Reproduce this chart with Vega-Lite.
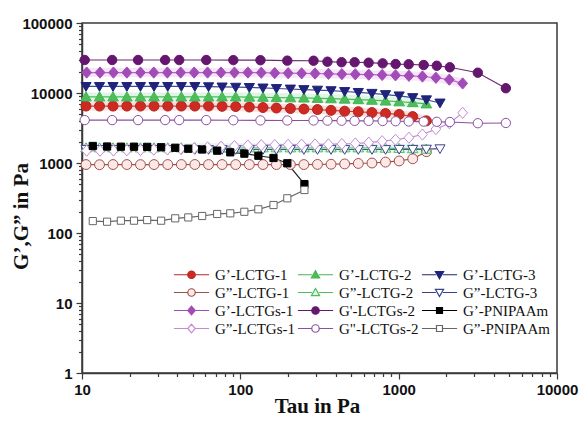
{
  "$schema": "https://vega.github.io/schema/vega-lite/v6.json",
  "width": 475,
  "height": 350,
  "autosize": {"type": "none"},
  "padding": {"left": 82, "top": 23, "right": 22, "bottom": 48},
  "background": "white",
  "config": {
    "view": {"stroke": "#3a3a3a", "strokeWidth": 1.5},
    "axis": {"grid": false, "domainColor": "#3a3a3a", "domainWidth": 1.5, "tickColor": "#3a3a3a", "tickWidth": 1.2,
      "labelFont": "Liberation Sans", "labelFontWeight": "bold", "labelFontSize": 15, "labelColor": "#111",
      "titleFont": "Liberation Serif", "titleFontWeight": "bold", "titleFontSize": 21, "titleColor": "#111",
      "labelOverlap": false, "labelFlush": false},
    "legend": {"orient": "none", "legendX": 102, "legendY": 244, "columns": 3, "padding": 0,
      "symbolSize": 56, "symbolStrokeWidth": 1.2, "symbolOpacity": 1, "labelFont": "Liberation Serif", "labelFontSize": 15, "labelColor": "#111",
      "labelOffset": 16, "columnPadding": 0, "rowPadding": 2, "labelLimit": 200}
  },
  "resolve": {"scale": {"stroke": "independent", "fill": "independent", "shape": "independent", "size": "independent"}},
  "data": {"values": [
    {"s":"G’-LCTG-1","x":10.6,"y":6500},{"s":"G’-LCTG-1","x":12.9,"y":6500},{"s":"G’-LCTG-1","x":15.7,"y":6500},{"s":"G’-LCTG-1","x":19.2,"y":6500},{"s":"G’-LCTG-1","x":23.4,"y":6500},{"s":"G’-LCTG-1","x":28.5,"y":6500},{"s":"G’-LCTG-1","x":34.8,"y":6500},{"s":"G’-LCTG-1","x":42.4,"y":6500},{"s":"G’-LCTG-1","x":51.6,"y":6500},{"s":"G’-LCTG-1","x":63.0,"y":6500},{"s":"G’-LCTG-1","x":76.7,"y":6450},{"s":"G’-LCTG-1","x":93.5,"y":6400},{"s":"G’-LCTG-1","x":114,"y":6300},{"s":"G’-LCTG-1","x":139,"y":6200},{"s":"G’-LCTG-1","x":169,"y":6100},{"s":"G’-LCTG-1","x":207,"y":6000},{"s":"G’-LCTG-1","x":252,"y":5900},{"s":"G’-LCTG-1","x":307,"y":5800},{"s":"G’-LCTG-1","x":374,"y":5650},{"s":"G’-LCTG-1","x":456,"y":5500},{"s":"G’-LCTG-1","x":556,"y":5400},{"s":"G’-LCTG-1","x":678,"y":5250},{"s":"G’-LCTG-1","x":826,"y":5100},{"s":"G’-LCTG-1","x":1007,"y":4950},{"s":"G’-LCTG-1","x":1227,"y":4600},{"s":"G’-LCTG-1","x":1496,"y":4000},
    {"s":"G”-LCTG-1","x":10.6,"y":950},{"s":"G”-LCTG-1","x":12.9,"y":945},{"s":"G”-LCTG-1","x":15.7,"y":950},{"s":"G”-LCTG-1","x":19.2,"y":950},{"s":"G”-LCTG-1","x":23.4,"y":948},{"s":"G”-LCTG-1","x":28.5,"y":950},{"s":"G”-LCTG-1","x":34.8,"y":950},{"s":"G”-LCTG-1","x":42.4,"y":950},{"s":"G”-LCTG-1","x":51.6,"y":952},{"s":"G”-LCTG-1","x":63.0,"y":950},{"s":"G”-LCTG-1","x":76.7,"y":950},{"s":"G”-LCTG-1","x":93.5,"y":950},{"s":"G”-LCTG-1","x":114,"y":950},{"s":"G”-LCTG-1","x":139,"y":950},{"s":"G”-LCTG-1","x":169,"y":950},{"s":"G”-LCTG-1","x":207,"y":950},{"s":"G”-LCTG-1","x":252,"y":950},{"s":"G”-LCTG-1","x":307,"y":955},{"s":"G”-LCTG-1","x":374,"y":960},{"s":"G”-LCTG-1","x":456,"y":970},{"s":"G”-LCTG-1","x":556,"y":985},{"s":"G”-LCTG-1","x":678,"y":1000},{"s":"G”-LCTG-1","x":826,"y":1030},{"s":"G”-LCTG-1","x":1007,"y":1070},{"s":"G”-LCTG-1","x":1227,"y":1150},{"s":"G”-LCTG-1","x":1496,"y":1450},
    {"s":"G’-LCTG-2","x":10.6,"y":8800},{"s":"G’-LCTG-2","x":12.9,"y":8800},{"s":"G’-LCTG-2","x":15.7,"y":8800},{"s":"G’-LCTG-2","x":19.2,"y":8800},{"s":"G’-LCTG-2","x":23.4,"y":8800},{"s":"G’-LCTG-2","x":28.5,"y":8800},{"s":"G’-LCTG-2","x":34.8,"y":8800},{"s":"G’-LCTG-2","x":42.4,"y":8800},{"s":"G’-LCTG-2","x":51.6,"y":8800},{"s":"G’-LCTG-2","x":63.0,"y":8800},{"s":"G’-LCTG-2","x":76.7,"y":8800},{"s":"G’-LCTG-2","x":93.5,"y":8800},{"s":"G’-LCTG-2","x":114,"y":8750},{"s":"G’-LCTG-2","x":139,"y":8700},{"s":"G’-LCTG-2","x":169,"y":8600},{"s":"G’-LCTG-2","x":207,"y":8550},{"s":"G’-LCTG-2","x":252,"y":8500},{"s":"G’-LCTG-2","x":307,"y":8400},{"s":"G’-LCTG-2","x":374,"y":8300},{"s":"G’-LCTG-2","x":456,"y":8200},{"s":"G’-LCTG-2","x":556,"y":8050},{"s":"G’-LCTG-2","x":678,"y":7900},{"s":"G’-LCTG-2","x":826,"y":7700},{"s":"G’-LCTG-2","x":1007,"y":7500},{"s":"G’-LCTG-2","x":1227,"y":7300},{"s":"G’-LCTG-2","x":1496,"y":7000},
    {"s":"G”-LCTG-2","x":10.6,"y":1650},{"s":"G”-LCTG-2","x":12.9,"y":1650},{"s":"G”-LCTG-2","x":15.7,"y":1650},{"s":"G”-LCTG-2","x":19.2,"y":1650},{"s":"G”-LCTG-2","x":23.4,"y":1650},{"s":"G”-LCTG-2","x":28.5,"y":1650},{"s":"G”-LCTG-2","x":34.8,"y":1650},{"s":"G”-LCTG-2","x":42.4,"y":1650},{"s":"G”-LCTG-2","x":51.6,"y":1650},{"s":"G”-LCTG-2","x":63.0,"y":1650},{"s":"G”-LCTG-2","x":76.7,"y":1650},{"s":"G”-LCTG-2","x":93.5,"y":1650},{"s":"G”-LCTG-2","x":114,"y":1650},{"s":"G”-LCTG-2","x":139,"y":1650},{"s":"G”-LCTG-2","x":169,"y":1650},{"s":"G”-LCTG-2","x":207,"y":1650},{"s":"G”-LCTG-2","x":252,"y":1650},{"s":"G”-LCTG-2","x":307,"y":1650},{"s":"G”-LCTG-2","x":374,"y":1650},{"s":"G”-LCTG-2","x":456,"y":1650},{"s":"G”-LCTG-2","x":556,"y":1650},{"s":"G”-LCTG-2","x":678,"y":1640},{"s":"G”-LCTG-2","x":826,"y":1630},{"s":"G”-LCTG-2","x":1007,"y":1620},{"s":"G”-LCTG-2","x":1227,"y":1600},{"s":"G”-LCTG-2","x":1496,"y":1580},
    {"s":"G’-LCTG-3","x":10.6,"y":12400},{"s":"G’-LCTG-3","x":12.9,"y":12400},{"s":"G’-LCTG-3","x":15.7,"y":12400},{"s":"G’-LCTG-3","x":19.2,"y":12400},{"s":"G’-LCTG-3","x":23.4,"y":12400},{"s":"G’-LCTG-3","x":28.5,"y":12400},{"s":"G’-LCTG-3","x":34.8,"y":12400},{"s":"G’-LCTG-3","x":42.4,"y":12400},{"s":"G’-LCTG-3","x":51.6,"y":12400},{"s":"G’-LCTG-3","x":63.0,"y":12300},{"s":"G’-LCTG-3","x":76.7,"y":12200},{"s":"G’-LCTG-3","x":93.5,"y":12100},{"s":"G’-LCTG-3","x":114,"y":12000},{"s":"G’-LCTG-3","x":139,"y":11800},{"s":"G’-LCTG-3","x":169,"y":11600},{"s":"G’-LCTG-3","x":207,"y":11400},{"s":"G’-LCTG-3","x":252,"y":11200},{"s":"G’-LCTG-3","x":307,"y":11000},{"s":"G’-LCTG-3","x":374,"y":10800},{"s":"G’-LCTG-3","x":456,"y":10500},{"s":"G’-LCTG-3","x":556,"y":10200},{"s":"G’-LCTG-3","x":678,"y":9900},{"s":"G’-LCTG-3","x":826,"y":9500},{"s":"G’-LCTG-3","x":1007,"y":9100},{"s":"G’-LCTG-3","x":1227,"y":8600},{"s":"G’-LCTG-3","x":1496,"y":8000},{"s":"G’-LCTG-3","x":1824,"y":7200},
    {"s":"G”-LCTG-3","x":10.6,"y":1560},{"s":"G”-LCTG-3","x":12.9,"y":1560},{"s":"G”-LCTG-3","x":15.7,"y":1560},{"s":"G”-LCTG-3","x":19.2,"y":1560},{"s":"G”-LCTG-3","x":23.4,"y":1560},{"s":"G”-LCTG-3","x":28.5,"y":1560},{"s":"G”-LCTG-3","x":34.8,"y":1560},{"s":"G”-LCTG-3","x":42.4,"y":1560},{"s":"G”-LCTG-3","x":51.6,"y":1560},{"s":"G”-LCTG-3","x":63.0,"y":1560},{"s":"G”-LCTG-3","x":76.7,"y":1560},{"s":"G”-LCTG-3","x":93.5,"y":1560},{"s":"G”-LCTG-3","x":114,"y":1560},{"s":"G”-LCTG-3","x":139,"y":1560},{"s":"G”-LCTG-3","x":169,"y":1560},{"s":"G”-LCTG-3","x":207,"y":1560},{"s":"G”-LCTG-3","x":252,"y":1560},{"s":"G”-LCTG-3","x":307,"y":1560},{"s":"G”-LCTG-3","x":374,"y":1560},{"s":"G”-LCTG-3","x":456,"y":1560},{"s":"G”-LCTG-3","x":556,"y":1560},{"s":"G”-LCTG-3","x":678,"y":1560},{"s":"G”-LCTG-3","x":826,"y":1560},{"s":"G”-LCTG-3","x":1007,"y":1570},{"s":"G”-LCTG-3","x":1227,"y":1570},{"s":"G”-LCTG-3","x":1496,"y":1580},{"s":"G”-LCTG-3","x":1824,"y":1600},
    {"s":"G’-LCTGs-1","x":10.7,"y":19600},{"s":"G’-LCTGs-1","x":13.0,"y":19600},{"s":"G’-LCTGs-1","x":15.8,"y":19600},{"s":"G’-LCTGs-1","x":19.2,"y":19600},{"s":"G’-LCTGs-1","x":23.4,"y":19600},{"s":"G’-LCTGs-1","x":28.4,"y":19600},{"s":"G’-LCTGs-1","x":34.6,"y":19600},{"s":"G’-LCTGs-1","x":42.0,"y":19600},{"s":"G’-LCTGs-1","x":51.1,"y":19600},{"s":"G’-LCTGs-1","x":62.1,"y":19600},{"s":"G’-LCTGs-1","x":75.5,"y":19600},{"s":"G’-LCTGs-1","x":91.8,"y":19600},{"s":"G’-LCTGs-1","x":111.6,"y":19600},{"s":"G’-LCTGs-1","x":135.6,"y":19500},{"s":"G’-LCTGs-1","x":164.9,"y":19300},{"s":"G’-LCTGs-1","x":200.5,"y":19200},{"s":"G’-LCTGs-1","x":243.8,"y":19100},{"s":"G’-LCTGs-1","x":296.3,"y":19000},{"s":"G’-LCTGs-1","x":360.1,"y":18800},{"s":"G’-LCTGs-1","x":437.8,"y":18600},{"s":"G’-LCTGs-1","x":532.2,"y":18500},{"s":"G’-LCTGs-1","x":647.0,"y":18300},{"s":"G’-LCTGs-1","x":786.5,"y":18100},{"s":"G’-LCTGs-1","x":955.4,"y":17900},{"s":"G’-LCTGs-1","x":1161,"y":17600},{"s":"G’-LCTGs-1","x":1413,"y":17200},{"s":"G’-LCTGs-1","x":1718,"y":16500},{"s":"G’-LCTGs-1","x":2089,"y":15500},{"s":"G’-LCTGs-1","x":2535,"y":13700},
    {"s":"G”-LCTGs-1","x":10.7,"y":1500},{"s":"G”-LCTGs-1","x":13.0,"y":1500},{"s":"G”-LCTGs-1","x":15.8,"y":1510},{"s":"G”-LCTGs-1","x":19.2,"y":1520},{"s":"G”-LCTGs-1","x":23.4,"y":1530},{"s":"G”-LCTGs-1","x":28.4,"y":1550},{"s":"G”-LCTGs-1","x":34.6,"y":1570},{"s":"G”-LCTGs-1","x":42.0,"y":1600},{"s":"G”-LCTGs-1","x":51.1,"y":1630},{"s":"G”-LCTGs-1","x":62.1,"y":1670},{"s":"G”-LCTGs-1","x":75.5,"y":1710},{"s":"G”-LCTGs-1","x":91.8,"y":1750},{"s":"G”-LCTGs-1","x":111.6,"y":1780},{"s":"G”-LCTGs-1","x":135.6,"y":1800},{"s":"G”-LCTGs-1","x":164.9,"y":1810},{"s":"G”-LCTGs-1","x":200.5,"y":1820},{"s":"G”-LCTGs-1","x":243.8,"y":1830},{"s":"G”-LCTGs-1","x":296.3,"y":1840},{"s":"G”-LCTGs-1","x":360.1,"y":1850},{"s":"G”-LCTGs-1","x":437.8,"y":1870},{"s":"G”-LCTGs-1","x":532.2,"y":1900},{"s":"G”-LCTGs-1","x":647.0,"y":1950},{"s":"G”-LCTGs-1","x":786.5,"y":2050},{"s":"G”-LCTGs-1","x":955.4,"y":2150},{"s":"G”-LCTGs-1","x":1161,"y":2300},{"s":"G”-LCTGs-1","x":1413,"y":2550},{"s":"G”-LCTGs-1","x":1718,"y":3050},{"s":"G”-LCTGs-1","x":2089,"y":3700},{"s":"G”-LCTGs-1","x":2535,"y":5200},
    {"s":"G'-LCTGs-2","x":10.4,"y":29600},{"s":"G'-LCTGs-2","x":15.5,"y":29600},{"s":"G'-LCTGs-2","x":22.6,"y":29600},{"s":"G'-LCTGs-2","x":33.5,"y":29600},{"s":"G'-LCTGs-2","x":41.1,"y":29600},{"s":"G'-LCTGs-2","x":60.9,"y":29600},{"s":"G'-LCTGs-2","x":90.3,"y":29500},{"s":"G'-LCTGs-2","x":134,"y":29400},{"s":"G'-LCTGs-2","x":198,"y":29000},{"s":"G'-LCTGs-2","x":290,"y":28900},{"s":"G'-LCTGs-2","x":355,"y":28000},{"s":"G'-LCTGs-2","x":436,"y":27500},{"s":"G'-LCTGs-2","x":527,"y":27500},{"s":"G'-LCTGs-2","x":646,"y":27100},{"s":"G'-LCTGs-2","x":792,"y":26500},{"s":"G'-LCTGs-2","x":957,"y":25900},{"s":"G'-LCTGs-2","x":1157,"y":25700},{"s":"G'-LCTGs-2","x":1439,"y":25100},{"s":"G'-LCTGs-2","x":1741,"y":24500},{"s":"G'-LCTGs-2","x":2105,"y":23300},{"s":"G'-LCTGs-2","x":3162,"y":19500},{"s":"G'-LCTGs-2","x":4753,"y":11700},
    {"s":"G\"-LCTGs-2","x":10.4,"y":4100},{"s":"G\"-LCTGs-2","x":15.5,"y":4100},{"s":"G\"-LCTGs-2","x":22.6,"y":4100},{"s":"G\"-LCTGs-2","x":33.5,"y":4100},{"s":"G\"-LCTGs-2","x":41.1,"y":4100},{"s":"G\"-LCTGs-2","x":60.9,"y":4100},{"s":"G\"-LCTGs-2","x":90.3,"y":4080},{"s":"G\"-LCTGs-2","x":134,"y":4060},{"s":"G\"-LCTGs-2","x":198,"y":4050},{"s":"G\"-LCTGs-2","x":290,"y":4050},{"s":"G\"-LCTGs-2","x":355,"y":4030},{"s":"G\"-LCTGs-2","x":436,"y":4020},{"s":"G\"-LCTGs-2","x":527,"y":4000},{"s":"G\"-LCTGs-2","x":646,"y":4000},{"s":"G\"-LCTGs-2","x":792,"y":3980},{"s":"G\"-LCTGs-2","x":957,"y":3950},{"s":"G\"-LCTGs-2","x":1157,"y":3920},{"s":"G\"-LCTGs-2","x":1439,"y":3900},{"s":"G\"-LCTGs-2","x":1741,"y":3880},{"s":"G\"-LCTGs-2","x":2105,"y":3850},{"s":"G\"-LCTGs-2","x":3162,"y":3700},{"s":"G\"-LCTGs-2","x":4753,"y":3730},
    {"s":"G’-PNIPAAm","x":11.7,"y":1750},{"s":"G’-PNIPAAm","x":14.4,"y":1720},{"s":"G’-PNIPAAm","x":17.6,"y":1710},{"s":"G’-PNIPAAm","x":21.3,"y":1710},{"s":"G’-PNIPAAm","x":25.8,"y":1700},{"s":"G’-PNIPAAm","x":31.6,"y":1680},{"s":"G’-PNIPAAm","x":38.8,"y":1650},{"s":"G’-PNIPAAm","x":46.9,"y":1600},{"s":"G’-PNIPAAm","x":57.4,"y":1560},{"s":"G’-PNIPAAm","x":71.4,"y":1500},{"s":"G’-PNIPAAm","x":86.4,"y":1420},{"s":"G’-PNIPAAm","x":106,"y":1360},{"s":"G’-PNIPAAm","x":130,"y":1270},{"s":"G’-PNIPAAm","x":162,"y":1180},{"s":"G’-PNIPAAm","x":198,"y":990},{"s":"G’-PNIPAAm","x":254,"y":500},
    {"s":"G”-PNIPAAm","x":11.7,"y":148},{"s":"G”-PNIPAAm","x":14.4,"y":145},{"s":"G”-PNIPAAm","x":17.6,"y":150},{"s":"G”-PNIPAAm","x":21.3,"y":150},{"s":"G”-PNIPAAm","x":25.8,"y":153},{"s":"G”-PNIPAAm","x":31.6,"y":150},{"s":"G”-PNIPAAm","x":38.8,"y":162},{"s":"G”-PNIPAAm","x":46.9,"y":167},{"s":"G”-PNIPAAm","x":57.4,"y":175},{"s":"G”-PNIPAAm","x":71.4,"y":187},{"s":"G”-PNIPAAm","x":86.4,"y":191},{"s":"G”-PNIPAAm","x":106,"y":201},{"s":"G”-PNIPAAm","x":130,"y":218},{"s":"G”-PNIPAAm","x":162,"y":251},{"s":"G”-PNIPAAm","x":198,"y":313},{"s":"G”-PNIPAAm","x":254,"y":411}
  ]},
  "encoding": {
    "x": {"field": "x", "type": "quantitative",
      "scale": {"type": "log", "domain": [10, 10000], "nice": false},
      "axis": {"title": "Tau in Pa", "titleX": 235, "titleY": 39, "titleBaseline": "alphabetic",
        "values": [10,20,30,40,50,60,70,80,90,100,200,300,400,500,600,700,800,900,1000,2000,3000,4000,5000,6000,7000,8000,9000,10000],
        "format": "d",
        "labelExpr": "indexof([10,100,1000,10000], datum.value) >= 0 ? datum.label : ''",
        "tickSize": {"condition": {"test": "indexof([10,100,1000,10000], datum.value) >= 0", "value": 6}, "value": 3.5},
        "labelPadding": 3}},
    "y": {"field": "y", "type": "quantitative",
      "scale": {"type": "log", "domain": [1, 100000], "nice": false},
      "axis": {"title": "G’,G” in Pa", "titleX": -55, "titleY": 193, "titleBaseline": "alphabetic", "titleAngle": 270,
        "values": [1,2,3,4,5,6,7,8,9,10,20,30,40,50,60,70,80,90,100,200,300,400,500,600,700,800,900,1000,2000,3000,4000,5000,6000,7000,8000,9000,10000,20000,30000,40000,50000,60000,70000,80000,90000,100000],
        "format": "d",
        "labelExpr": "indexof([1,10,100,1000,10000,100000], datum.value) >= 0 ? datum.label : ''",
        "tickSize": {"condition": {"test": "indexof([1,10,100,1000,10000,100000], datum.value) >= 0", "value": 6}, "value": 3.5},
        "labelPadding": 4}}
  },
  "layer": [
    {
      "transform": [{"filter": {"field": "s", "oneOf": ["G’-LCTG-1", "G’-LCTG-2", "G’-LCTGs-1", "G”-LCTG-2"]}}],
      "mark": {"type": "line", "strokeWidth": 9, "opacity": 0.16, "strokeCap": "round"},
      "encoding": {"color": {"field": "s", "type": "nominal", "legend": null,
        "scale": {"domain": ["G’-LCTG-1","G”-LCTG-1","G’-LCTGs-1","G”-LCTGs-1","G’-LCTG-2","G”-LCTG-2","G'-LCTGs-2","G\"-LCTGs-2","G’-LCTG-3","G”-LCTG-3","G’-PNIPAAm","G”-PNIPAAm","none-c"],
          "range": ["#d63a34","#a0504a","#c060d0","#c48ad6","#3fbf55","#6cc77a","#6b2a75","#8c4fa0","#3a4a9a","#4a5098","#222222","#666666","#000000"]}}}
    },
    {
      "mark": {"type": "line", "strokeWidth": 1.2},
      "encoding": {"color": {"field": "s", "type": "nominal", "legend": null}}
    },
    {
      "mark": {"type": "point", "opacity": 1, "strokeWidth": 1},
      "encoding": {
        "stroke": {"field": "s", "type": "nominal", "legend": null,
          "scale": {"domain": ["G’-LCTG-1","G”-LCTG-1","G’-LCTGs-1","G”-LCTGs-1","G’-LCTG-2","G”-LCTG-2","G'-LCTGs-2","G\"-LCTGs-2","G’-LCTG-3","G”-LCTG-3","G’-PNIPAAm","G”-PNIPAAm"],
            "range": ["#b8261e","#a0504a","#a24cb8","#c48ad6","#45b556","#4dbd5c","#65176f","#8c4fa0","#1f237a","#3a4290","#000000","#666666"]}},
        "fill": {"field": "s", "type": "nominal", "legend": null,
          "scale": {"domain": ["G’-LCTG-1","G”-LCTG-1","G’-LCTGs-1","G”-LCTGs-1","G’-LCTG-2","G”-LCTG-2","G'-LCTGs-2","G\"-LCTGs-2","G’-LCTG-3","G”-LCTG-3","G’-PNIPAAm","G”-PNIPAAm"],
            "range": ["#cc2a22","#fde8e8","#a24cb8","#ffffff","#4dbd5c","#e6f7ea","#65176f","#ffffff","#1f237a","#ffffff","#000000","#ffffff"]}},
        "shape": {"field": "s", "type": "nominal", "legend": null,
          "scale": {"domain": ["G’-LCTG-1","G”-LCTG-1","G’-LCTGs-1","G”-LCTGs-1","G’-LCTG-2","G”-LCTG-2","G'-LCTGs-2","G\"-LCTGs-2","G’-LCTG-3","G”-LCTG-3","G’-PNIPAAm","G”-PNIPAAm"],
            "range": ["M1,0A1,1 0 1 1 -1,0A1,1 0 1 1 1,0Z","M1,0A1,1 0 1 1 -1,0A1,1 0 1 1 1,0Z","M0,-1.15L1,0L0,1.15L-1,0Z","M0,-1.15L1,0L0,1.15L-1,0Z","M0,-1.05L1.1,0.85L-1.1,0.85Z","M0,-1.05L1.1,0.85L-1.1,0.85Z","M1,0A1,1 0 1 1 -1,0A1,1 0 1 1 1,0Z","M1,0A1,1 0 1 1 -1,0A1,1 0 1 1 1,0Z","M0,1.05L1.1,-0.85L-1.1,-0.85Z","M0,1.05L1.1,-0.85L-1.1,-0.85Z","M-0.8,-0.8L0.8,-0.8L0.8,0.8L-0.8,0.8Z","M-0.8,-0.8L0.8,-0.8L0.8,0.8L-0.8,0.8Z"]}},
        "size": {"field": "s", "type": "nominal", "legend": null,
          "scale": {"domain": ["G’-LCTG-1","G”-LCTG-1","G’-LCTGs-1","G”-LCTGs-1","G’-LCTG-2","G”-LCTG-2","G'-LCTGs-2","G\"-LCTGs-2","G’-LCTG-3","G”-LCTG-3","G’-PNIPAAm","G”-PNIPAAm"],
            "range": [100, 80, 100, 90, 90, 80, 100, 90, 90, 80, 100, 80]}}
      }
    },
    {
      "mark": {"type": "point", "opacity": 0, "strokeWidth": 1.2},
      "encoding": {
        "stroke": {"field": "s", "type": "nominal", "legend": {"title": null},
          "scale": {"domain": ["G’-LCTG-1","G”-LCTG-1","G’-LCTGs-1","G”-LCTGs-1","G’-LCTG-2","G”-LCTG-2","G'-LCTGs-2","G\"-LCTGs-2","G’-LCTG-3","G”-LCTG-3","G’-PNIPAAm","G”-PNIPAAm"],
            "range": ["#b8261e","#a0504a","#a24cb8","#c48ad6","#45b556","#4dbd5c","#65176f","#8c4fa0","#1f237a","#3a4290","#000000","#666666"]}},
        "fill": {"field": "s", "type": "nominal", "legend": {"title": null},
          "scale": {"domain": ["G’-LCTG-1","G”-LCTG-1","G’-LCTGs-1","G”-LCTGs-1","G’-LCTG-2","G”-LCTG-2","G'-LCTGs-2","G\"-LCTGs-2","G’-LCTG-3","G”-LCTG-3","G’-PNIPAAm","G”-PNIPAAm"],
            "range": ["#cc2a22","#fde8e8","#a24cb8","#ffffff","#4dbd5c","#e6f7ea","#65176f","#ffffff","#1f237a","#ffffff","#000000","#ffffff"]}},
        "shape": {"field": "s", "type": "nominal", "legend": {"title": null},
          "scale": {"domain": ["G’-LCTG-1","G”-LCTG-1","G’-LCTGs-1","G”-LCTGs-1","G’-LCTG-2","G”-LCTG-2","G'-LCTGs-2","G\"-LCTGs-2","G’-LCTG-3","G”-LCTG-3","G’-PNIPAAm","G”-PNIPAAm"],
            "range": ["M-4.7,0L-0.95,0M0.95,0L4.7,0M1,0A1,1 0 1 1 -1,0A1,1 0 1 1 1,0Z","M-4.7,0L-0.95,0M0.95,0L4.7,0M1,0A1,1 0 1 1 -1,0A1,1 0 1 1 1,0Z","M-4.7,0L-0.95,0M0.95,0L4.7,0M0,-1.15L1,0L0,1.15L-1,0Z","M-4.7,0L-0.95,0M0.95,0L4.7,0M0,-1.15L1,0L0,1.15L-1,0Z","M-4.7,0L-0.95,0M0.95,0L4.7,0M0,-1.05L1.1,0.85L-1.1,0.85Z","M-4.7,0L-0.95,0M0.95,0L4.7,0M0,-1.05L1.1,0.85L-1.1,0.85Z","M-4.7,0L-0.95,0M0.95,0L4.7,0M1,0A1,1 0 1 1 -1,0A1,1 0 1 1 1,0Z","M-4.7,0L-0.95,0M0.95,0L4.7,0M1,0A1,1 0 1 1 -1,0A1,1 0 1 1 1,0Z","M-4.7,0L-0.95,0M0.95,0L4.7,0M0,1.05L1.1,-0.85L-1.1,-0.85Z","M-4.7,0L-0.95,0M0.95,0L4.7,0M0,1.05L1.1,-0.85L-1.1,-0.85Z","M-4.7,0L-0.8,0M0.8,0L4.7,0M-0.8,-0.8L0.8,-0.8L0.8,0.8L-0.8,0.8Z","M-4.7,0L-0.8,0M0.8,0L4.7,0M-0.8,-0.8L0.8,-0.8L0.8,0.8L-0.8,0.8Z"]}}
      }
    }
  ]
}
